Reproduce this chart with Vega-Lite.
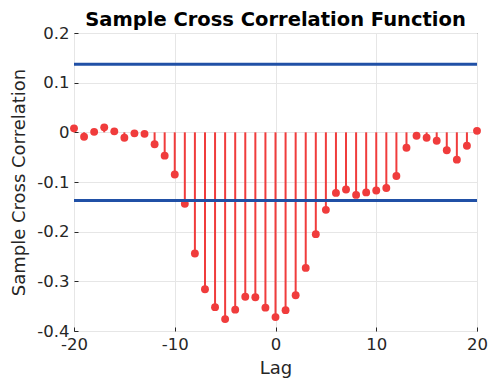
{
  "$schema": "https://vega.github.io/schema/vega-lite/v6.json",
  "autosize": "none",
  "padding": {"left": 74, "top": 33, "right": 11, "bottom": 48},
  "width": 403,
  "height": 298,
  "background": "white",
  "config": {
    "font": "DejaVu Sans",
    "view": {"stroke": "#262626", "strokeWidth": 1},
    "axis": {"gridColor": "#e6e6e6", "gridOpacity": 1, "domain": false, "ticks": true, "tickSize": -4, "tickColor": "#262626", "labelColor": "#262626", "titleColor": "#262626", "labelFontSize": 16.5, "titleFontSize": 18, "titleFontWeight": "normal", "labelFlush": false, "labelOverlap": false}
  },
  "title": {"text": "Sample Cross Correlation Function", "fontSize": 19.5, "fontWeight": "bold", "color": "black", "offset": -5},
  "datasets": {
    "xc": [
      {"lag": -20, "r": 0.008}, {"lag": -19, "r": -0.009}, {"lag": -18, "r": 0.001}, {"lag": -17, "r": 0.01},
      {"lag": -16, "r": 0.002}, {"lag": -15, "r": -0.011}, {"lag": -14, "r": -0.002}, {"lag": -13, "r": -0.003},
      {"lag": -12, "r": -0.024}, {"lag": -11, "r": -0.047}, {"lag": -10, "r": -0.085}, {"lag": -9, "r": -0.144},
      {"lag": -8, "r": -0.244}, {"lag": -7, "r": -0.316}, {"lag": -6, "r": -0.352}, {"lag": -5, "r": -0.376},
      {"lag": -4, "r": -0.357}, {"lag": -3, "r": -0.331}, {"lag": -2, "r": -0.332}, {"lag": -1, "r": -0.353},
      {"lag": 0, "r": -0.372}, {"lag": 1, "r": -0.358}, {"lag": 2, "r": -0.328}, {"lag": 3, "r": -0.273},
      {"lag": 4, "r": -0.205}, {"lag": 5, "r": -0.156}, {"lag": 6, "r": -0.122}, {"lag": 7, "r": -0.115},
      {"lag": 8, "r": -0.126}, {"lag": 9, "r": -0.121}, {"lag": 10, "r": -0.117}, {"lag": 11, "r": -0.112},
      {"lag": 12, "r": -0.088}, {"lag": 13, "r": -0.031}, {"lag": 14, "r": -0.007}, {"lag": 15, "r": -0.011},
      {"lag": 16, "r": -0.017}, {"lag": 17, "r": -0.036}, {"lag": 18, "r": -0.055}, {"lag": 19, "r": -0.027},
      {"lag": 20, "r": 0.003}
    ],
    "bounds": [{"b": 0.137}, {"b": -0.137}]
  },
  "layer": [
    {
      "data": {"name": "xc"},
      "mark": {"type": "rule", "color": "#f03c3c", "strokeWidth": 2},
      "encoding": {
        "x": {"field": "lag", "type": "quantitative", "scale": {"domain": [-20, 20], "nice": false, "padding": 0, "zero": false},
              "axis": {"values": [-20, -10, 0, 10, 20], "title": "Lag", "labelPadding": 9, "titlePadding": 7,
                       "labelExpr": "toString(datum.value)"}},
        "y": {"field": "r", "type": "quantitative", "scale": {"domain": [-0.4, 0.2], "nice": false, "padding": 0},
              "axis": {"values": [-0.4, -0.3, -0.2, -0.1, 0, 0.1, 0.2], "title": "Sample Cross Correlation", "labelPadding": 9, "titlePadding": 8,
                       "labelExpr": "datum.value == 0 ? '0' : toString(round(datum.value * 10) / 10)"}},
        "y2": {"datum": 0}
      }
    },
    {
      "data": {"name": "xc"},
      "mark": {"type": "point", "filled": true, "color": "#f03c3c", "opacity": 1, "size": 62},
      "encoding": {
        "x": {"field": "lag", "type": "quantitative"},
        "y": {"field": "r", "type": "quantitative"}
      }
    },
    {
      "data": {"name": "bounds"},
      "mark": {"type": "rule", "color": "#2050a6", "strokeWidth": 3},
      "encoding": {
        "y": {"field": "b", "type": "quantitative"}
      }
    }
  ]
}
